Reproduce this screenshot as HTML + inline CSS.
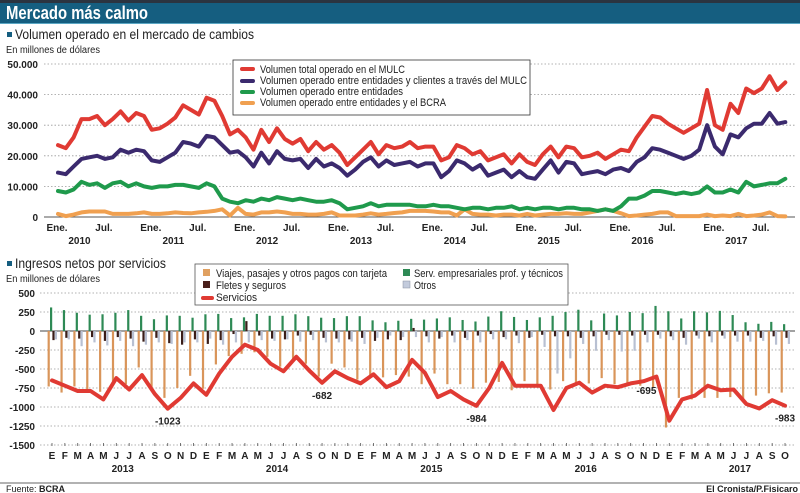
<!DOCTYPE html>
<html><head><meta charset="utf-8">
<style>
body{margin:0;width:800px;height:493px;background:#fff;overflow:hidden;font-family:"Liberation Sans",sans-serif;}
svg{display:block}
</style></head>
<body>
<svg id="c" width="800" height="493" viewBox="0 0 800 493" xmlns="http://www.w3.org/2000/svg" font-family="Liberation Sans, sans-serif">
<rect x="0" y="0" width="800" height="3" fill="#2b3440"/>
<rect x="0" y="3" width="800" height="20" fill="#155e80"/>
<rect x="0" y="23" width="800" height="1" fill="#5aa7c4"/>
<text x="6" y="19" font-size="18" font-weight="bold" fill="#fff" textLength="142" lengthAdjust="spacingAndGlyphs">Mercado más calmo</text>
<rect x="7" y="32" width="5" height="5" fill="#155e80"/>
<text x="15" y="39" font-size="14" fill="#222" textLength="239" lengthAdjust="spacingAndGlyphs">Volumen operado en el mercado de cambios</text>
<text x="6" y="53" font-size="10" fill="#222" textLength="94" lengthAdjust="spacingAndGlyphs">En millones de dólares</text>
<g id="topChart"></g>
<g id="toplegend">
<rect x="233" y="60" width="297" height="55" fill="#fff" stroke="#333" stroke-width="0.8"/>
<line x1="242" y1="69" x2="253" y2="69" stroke="#e03a33" stroke-width="4" stroke-linecap="round"/>
<text x="260" y="73" font-size="11" fill="#222" textLength="145" lengthAdjust="spacingAndGlyphs">Volumen total operado en el MULC</text>
<line x1="242" y1="81" x2="253" y2="81" stroke="#3b2a6e" stroke-width="4" stroke-linecap="round"/>
<text x="260" y="84" font-size="11" fill="#222" textLength="267" lengthAdjust="spacingAndGlyphs">Volumen operado entre entidades y clientes a través del MULC</text>
<line x1="242" y1="92" x2="253" y2="92" stroke="#1f9a4c" stroke-width="4" stroke-linecap="round"/>
<text x="260" y="95" font-size="11" fill="#222" textLength="143" lengthAdjust="spacingAndGlyphs">Volumen operado entre entidades</text>
<line x1="242" y1="103" x2="253" y2="103" stroke="#f0a050" stroke-width="4" stroke-linecap="round"/>
<text x="260" y="106" font-size="11" fill="#222" textLength="186" lengthAdjust="spacingAndGlyphs">Volumen operado entre entidades y el BCRA</text>
</g>
<rect x="7" y="261" width="5" height="5" fill="#155e80"/>
<text x="15" y="268" font-size="14" fill="#222" textLength="151" lengthAdjust="spacingAndGlyphs">Ingresos netos por servicios</text>
<text x="6" y="282" font-size="10" fill="#222" textLength="94" lengthAdjust="spacingAndGlyphs">En millones de dólares</text>
<g id="botChart"></g>
<g id="botlegend">
<rect x="195" y="264" width="373" height="41" fill="#fff" stroke="#555" stroke-width="0.8"/>
<rect x="203" y="269" width="7" height="7" fill="#e0a060"/>
<text x="216" y="277" font-size="11" fill="#222" textLength="171" lengthAdjust="spacingAndGlyphs">Viajes, pasajes y otros pagos con tarjeta</text>
<rect x="203" y="281" width="7" height="7" fill="#4a1f1a"/>
<text x="216" y="289" font-size="11" fill="#222" textLength="70" lengthAdjust="spacingAndGlyphs">Fletes y seguros</text>
<line x1="203" y1="298" x2="212" y2="298" stroke="#e03a33" stroke-width="4" stroke-linecap="round"/>
<text x="216" y="301" font-size="11" fill="#222" textLength="41" lengthAdjust="spacingAndGlyphs">Servicios</text>
<rect x="403" y="269" width="7" height="7" fill="#2e8a55"/>
<text x="414" y="277" font-size="11" fill="#222" textLength="149" lengthAdjust="spacingAndGlyphs">Serv. empresariales prof. y técnicos</text>
<rect x="403" y="281" width="7" height="7" fill="#c3cbdc" stroke="#8890a0" stroke-width="0.5"/>
<text x="414" y="289" font-size="11" fill="#222" textLength="22" lengthAdjust="spacingAndGlyphs">Otros</text>
</g>
<line x1="0" y1="483" x2="800" y2="483" stroke="#666" stroke-width="1"/>
<text x="6" y="492" font-size="9" fill="#222">Fuente: <tspan font-weight="bold">BCRA</tspan></text>
<text x="798" y="492" font-size="9" font-weight="bold" fill="#222" text-anchor="end">El Cronista/P.Fisicaro</text>
</svg>
<script>
// ---- Top chart data (thousands of millions USD), Jan 2010 .. Oct 2017 ----
const volTotal=[23.5,22.5,26,32,32,33,30,32,34.5,31.5,34,33, 28.5,29,30.5,32.5,36.5,35,33.5,39,38,33,27,28.5, 26,22,28.5,24.5,29,25.5,24,25.5,21.5,24.5,22,23.5, 21,17,19.5,22,24.5,20.5,23.5,22.5,23,24.5,22.5,23, 23,18.5,19.5,23.5,22.5,20.5,21.5,18.5,19.5,20.5,17.5,20.5, 18,17,20.5,23,19.5,23,22.5,19.5,20,21,19,20.5, 22,21.5,26,29.5,33,32.5,30.5,29,27.5,29,30.5,41.5, 30,28.5,37,34,42,40.5,42,46,41.5,44];
const volClientes=[14.5,14,16.5,19,19.5,20,19,19.5,22,21,22,21.5, 18.5,18,19.5,21,24.5,24,23,26.5,26,23.5,21,21.5, 19.5,16.5,21,17.5,21.5,19,18.5,19,16,19,16.5,17.5, 16,13.5,15.5,18,19.5,16.5,18.5,17,17.5,18,16.5,17.5, 17.5,13,15,18.5,17.5,15.5,17,13.5,14.5,15.5,13,15, 13,12.5,15.5,18.5,14.5,18,17.5,14,14.5,15,14,15.5, 16,15,18,19.5,22.5,22,21,20,19,20,22,30, 23,20.5,27,26,29,30.5,30.5,34,30.5,31];
const volEntidades=[8.5,8,9,11.5,10.5,11,9.5,11,11.5,10,11,10, 9.5,10,10,10.5,10.5,10,9.5,11,10,6,5,4.5, 5.5,5,6,5.5,6.5,6,5.5,6,5.5,5,5,5.5, 4.5,2.5,3,3.5,4.5,3.5,4,4,4,4,3.5,3.5, 4,3.5,3.5,3,2.5,3,3,2.5,3,3,3.5,2.5, 3,2.5,3,3,2.5,3,3,2.5,2.5,2,2.5,2, 3.5,6,6,7,8.5,8.5,8,7.5,8,7.5,8,10, 8,8,9,8,11.5,10,10.5,11,11,12.5];
const volBCRA=[1,0.3,0.8,1.5,1.8,1.8,1.8,1,1,1,1.2,1.5, 1,1,1.2,1.5,1.3,1.2,1.5,1.7,2,2.5,0.5,3, 1,0.8,1.5,1.5,1.8,1.5,1,1,0.8,0.8,1,1.5, 0.5,0.5,0.5,0.8,1.2,0.8,1,1.3,1.5,2,2,2, 1.8,1.5,1.5,0.5,2.5,1,0.8,0.8,0.5,0.8,0.8,0.5, 1,0.5,0.8,1,1,1.2,1,1,1.5,2,2.5,2, 1.2,0.3,0.5,0.8,1,1.5,1.5,0.3,0.3,0.3,0.3,0.8, 0.3,0.5,0.3,1,0.3,0.5,0.8,1.5,0.3,0.2];
const topTicks=[0,10,20,30,40,50];
const topTickLabels=["0","10.000","20.000","30.000","40.000","50.000"];
const topYears=["2010","2011","2012","2013","2014","2015","2016","2017"];

// ---- Bottom chart data (millions USD), Jan 2013 .. Oct 2017 ----
const servicios=[-650,-720,-790,-790,-900,-620,-770,-580,-830,-1023,-880,-690, -840,-560,-340,-180,-250,-430,-530,-340,-520,-682,-530,-620, -690,-570,-740,-660,-380,-550,-870,-790,-900,-984,-750,-420, -720,-720,-720,-1040,-750,-680,-810,-720,-740,-690,-660,-600, -1180,-900,-850,-720,-780,-770,-960,-1020,-910,-983];
const viajes=[-730,-810,-730,-790,-800,-680,-700,-480,-760,-880,-750,-590, -760,-440,-330,-300,-280,-340,-470,-380,-430,-600,-430,-480, -640,-600,-610,-580,-600,-700,-560,-700,-700,-760,-680,-670, -780,-660,-700,-770,-660,-720,-690,-620,-700,-700,-720,-750, -1270,-880,-900,-880,-880,-870,-900,-850,-820,-810];
const empresariales=[310,275,240,215,220,240,275,200,155,205,200,175, 220,225,170,180,225,200,200,220,195,175,170,195, 195,140,115,135,160,150,165,180,145,125,190,260, 185,145,180,200,250,280,140,230,205,250,235,330, 260,165,260,245,265,210,115,95,120,90];
const fletes=[-120,-90,-100,-80,-130,-80,-100,-140,-90,-160,-180,-110, -170,-120,-40,130,-60,-100,-110,-60,-50,-90,-100,-110, -90,-130,-110,-120,40,-70,-100,-60,-90,-60,-40,-80, -60,-90,-50,-70,-70,-90,-70,-50,-50,-60,-50,-50, -70,-90,-60,-70,-60,-60,-60,-90,-70,-90];
const otros=[-110,-110,-200,-150,-190,-130,-200,-180,-150,-170,-150,-150, -100,-180,-150,-150,-120,-130,-110,-140,-120,-150,-150,-140, -170,-90,-60,-80,-80,-150,-80,-150,-120,-150,-110,-110, -160,-80,-210,-560,-360,-170,-260,-120,-270,-260,-150,-100, -120,-180,-100,-150,-100,-140,-140,-130,-180,-170];
const botTicks=[500,250,0,-250,-500,-750,-1000,-1250,-1500];
const botTickLabels=["500","250","0","-250","-500","-750","-1000","-1250","-1500"];
const monthLetters=["E","F","M","A","M","J","J","A","S","O","N","D"];
const botYears=["2013","2014","2015","2016","2017"];
const annotations=[{i:9,v:-1023,t:"-1023"},{i:21,v:-682,t:"-682"},{i:33,v:-984,t:"-984"},{i:47,v:-695,t:"-695"},{i:57,v:-983,t:"-983"}];

const NS="http://www.w3.org/2000/svg";
function mk(parent,tag,attrs){const e=document.createElementNS(NS,tag);for(const k in attrs)e.setAttribute(k,attrs[k]);parent.appendChild(e);return e;}

const tx=i=>58+i*7.82;
const ty=v=>217-v*3.06;
const topG=document.getElementById('topChart');
topTicks.forEach((t,k)=>{
  const y=ty(t);
  const gl=mk(topG,'line',{x1:44,x2:795,y1:y,y2:y,stroke:t===0?'#555':'#999','stroke-width':t===0?1:0.8,'stroke-dasharray':t===0?'none':'1.5 2'});
  
  
  const lb=mk(topG,'text',{x:38,y:y+4,'font-size':10,'font-weight':'bold','text-anchor':'end',fill:'#222'});
  lb.textContent=topTickLabels[k];
  
  
});
topYears.forEach((yr,k)=>{
  ['Ene.','Jul.'].forEach((m,j)=>{
    const x=tx(k*12+j*6)-1;
    const lb=mk(topG,'text',{x:x,y:231,'font-size':10,'font-weight':'bold','text-anchor':'middle',fill:'#222'});
    lb.textContent=m;
    
    
  });
  const yl=mk(topG,'text',{x:tx(k*12+3)-2,y:244,'font-size':10,'font-weight':'bold','text-anchor':'middle',fill:'#222'});
  yl.textContent=yr;
  
  
});
function topLine(arr,color,name){
  const d=arr.map((v,i)=>(i?'L':'M')+tx(i).toFixed(1)+' '+ty(v).toFixed(1)).join(' ');
  const p=mk(topG,'path',{d:d,fill:'none',stroke:color,'stroke-width':4,'stroke-linejoin':'round','stroke-linecap':'round'});
  
  
}
topLine(volBCRA,'#f0a050','line-bcra');
topLine(volEntidades,'#1f9a4c','line-entidades');
topLine(volClientes,'#3b2a6e','line-clientes');
topLine(volTotal,'#e03a33','line-total');
document.getElementById('c').appendChild(document.getElementById('toplegend'));

const bx=i=>52+i*12.86;
const by=v=>331-v*0.076;
const botG=document.getElementById('botChart');
botTicks.forEach((t,k)=>{
  const y=by(t);
  const gl=mk(botG,'line',{x1:40,x2:795,y1:y,y2:y,stroke:t===0?'#444':'#999','stroke-width':t===0?1:0.8,'stroke-dasharray':t===0?'none':'1.5 2'});
  
  
  const lb=mk(botG,'text',{x:35,y:y+4,'font-size':10,'font-weight':'bold','text-anchor':'end',fill:'#222'});
  lb.textContent=botTickLabels[k];
  
  
});
function bar(i,off,v,color,name){
  const y0=by(0),y1=by(v);
  const r=mk(botG,'rect',{x:bx(i)+off,y:Math.min(y0,y1),width:2.2,height:Math.abs(y1-y0),fill:color});
  
  
}
servicios.forEach((_,i)=>{
  bar(i,-4.4,viajes[i],'#d9955a','bar-viajes');
  bar(i,-2,empresariales[i],'#2e8a55','bar-empresariales');
  bar(i,0.4,fletes[i],'#3a1d18','bar-fletes');
  bar(i,2.8,otros[i],'#b8c0d2','bar-otros');
  const tk=mk(botG,'line',{x1:bx(i),x2:bx(i),y1:by(-1500)-2,y2:by(-1500)+1,stroke:'#555','stroke-width':0.8});
  
  
  const lb=mk(botG,'text',{x:bx(i),y:459,'font-size':10,'font-weight':'bold','text-anchor':'middle',fill:'#222'});
  lb.textContent=monthLetters[i%12];
  
  
});
botYears.forEach((yr,k)=>{
  const yl=mk(botG,'text',{x:bx(k*12+5.5),y:472,'font-size':10,'font-weight':'bold','text-anchor':'middle',fill:'#222'});
  yl.textContent=yr;
  
  
});
const sd=servicios.map((v,i)=>(i?'L':'M')+bx(i).toFixed(1)+' '+by(v).toFixed(1)).join(' ');
const sp=mk(botG,'path',{d:sd,fill:'none',stroke:'#e03a33','stroke-width':4,'stroke-linejoin':'round','stroke-linecap':'round'});


annotations.forEach(a=>{
  const up=a.t==="-695";
  const t=mk(botG,'text',{x:bx(a.i)-(up?10:0),y:up?by(a.v)+10:by(a.v)+16,'font-size':10,'font-weight':'bold','text-anchor':'middle',fill:'#222'});
  t.textContent=a.t;
  
  
});
document.getElementById('c').appendChild(document.getElementById('botlegend'));
</script>
</body></html>
